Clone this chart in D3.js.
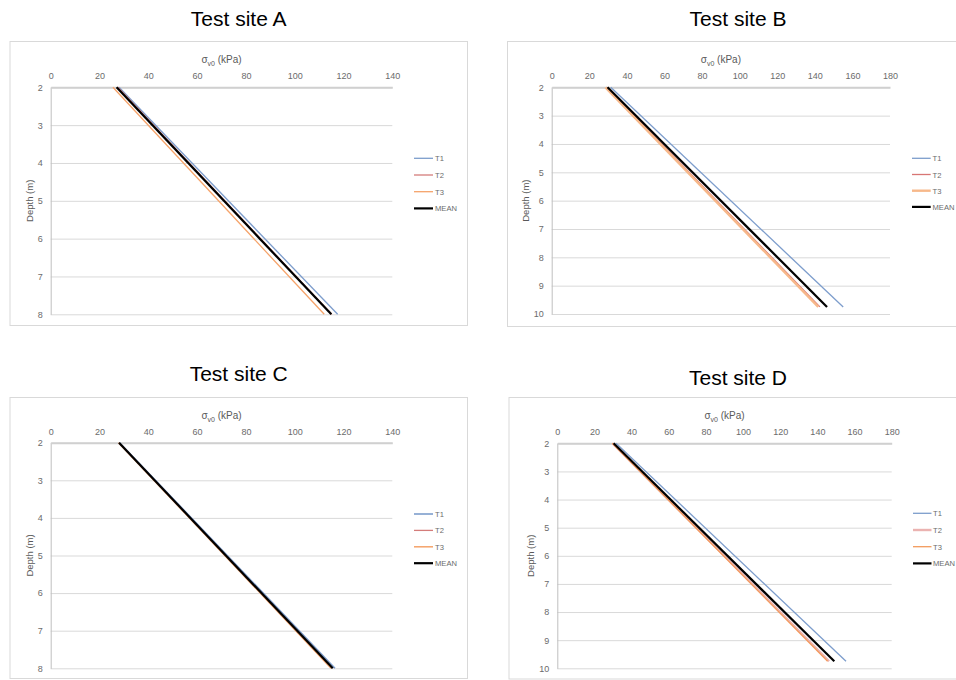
<!DOCTYPE html>
<html>
<head>
<meta charset="utf-8">
<script src="https://cdn.jsdelivr.net/npm/d3@7/dist/d3.min.js"></script>
<style>
  html, body { margin: 0; padding: 0; background: #ffffff; }
  svg { display: block; font-family: "Liberation Sans", Arial, sans-serif; }
</style>
</head>
<body>
<svg id="chart" width="956" height="680"></svg>
<script>
// Vertical effective stress profiles, four test sites
const siteNames = ["Test site A", "Test site B", "Test site C", "Test site D"];
const seriesNames = ["T1", "T2", "T3", "MEAN"];

// depth (m) of each profile end point
const depthA = [2, 8];
const depthB = [2, 9.75];
const depthC = [2, 8];
const depthD = [2, 9.75];

// sigma_v0 (kPa) at those depths
const siteA_T1 = [28.0, 117.6];
const siteA_T2 = [27.5, 115.2];
const siteA_T3 = [25.5, 112.1];
const siteA_MEAN = [27.0, 115.0];

const siteB_T1 = [31.4, 155.1];
const siteB_T2 = [29.2, 142.7];
const siteB_T3 = [28.6, 141.8];
const siteB_MEAN = [29.7, 146.5];

const siteC_T1 = [28.2, 116.5];
const siteC_T2 = [28.0, 115.4];
const siteC_T3 = [27.8, 114.9];
const siteC_MEAN = [28.0, 115.6];

const siteD_T1 = [31.6, 155.4];
const siteD_T2 = [29.8, 146.3];
const siteD_T3 = [29.6, 145.5];
const siteD_MEAN = [30.3, 149.1];

// axis ranges and tick values
const xTicksAC = [0, 20, 40, 60, 80, 100, 120, 140];
const xTicksBD = [0, 20, 40, 60, 80, 100, 120, 140, 160, 180];
const yTicksAC = [2, 3, 4, 5, 6, 7, 8];
const yTicksBD = [2, 3, 4, 5, 6, 7, 8, 9, 10];

const sites = [
  { name: siteNames[0], depth: depthA, series: [siteA_T1, siteA_T2, siteA_T3, siteA_MEAN], xTicks: xTicksAC, yTicks: yTicksAC },
  { name: siteNames[1], depth: depthB, series: [siteB_T1, siteB_T2, siteB_T3, siteB_MEAN], xTicks: xTicksBD, yTicks: yTicksBD },
  { name: siteNames[2], depth: depthC, series: [siteC_T1, siteC_T2, siteC_T3, siteC_MEAN], xTicks: xTicksAC, yTicks: yTicksAC },
  { name: siteNames[3], depth: depthD, series: [siteD_T1, siteD_T2, siteD_T3, siteD_MEAN], xTicks: xTicksBD, yTicks: yTicksBD }
];

// panel geometry
const layout = [
  { frame: [10, 41.5, 457.5, 284], plot: [50.7, 392.3, 87.3, 314.3], titleX: 238.7, titleY: 26,
    xTitleY: 63, yTitleX: 33, leg: [414, 433, 435, 158.3, 16.7] },
  { frame: [507.5, 41.5, 470, 285], plot: [551.7, 890, 87.3, 314], titleX: 738, titleY: 26,
    xTitleY: 63, yTitleX: 529, leg: [912, 930.7, 932.5, 158.3, 16.2] },
  { frame: [10, 397.5, 457.5, 281], plot: [50.7, 392.3, 442.7, 668.3], titleX: 238.7, titleY: 381,
    xTitleY: 419, yTitleX: 33, leg: [414, 433, 435, 514, 16.4] },
  { frame: [509, 397.5, 470, 281.5], plot: [557.3, 891.7, 443.3, 668.3], titleX: 738, titleY: 385,
    xTitleY: 419, yTitleX: 534, leg: [913, 931.5, 933, 513.3, 16.7] }
];

// line styles per site, in series order
const styles = [
  [{ c: "#7d9dcc", w: 1.3 }, { c: "#d47c7a", w: 1.3 }, { c: "#f5a36a", w: 1.3 }, { c: "#000000", w: 2.2 }],
  [{ c: "#7d9dcc", w: 1.3 }, { c: "#d87674", w: 1.3 }, { c: "#f7b88a", w: 2.4 }, { c: "#000000", w: 2.2 }],
  [{ c: "#7d9dcc", w: 1.6 }, { c: "#d47c7a", w: 1.3 }, { c: "#f5a36a", w: 1.5 }, { c: "#000000", w: 2.2 }],
  [{ c: "#7d9dcc", w: 1.3 }, { c: "#ebb3b1", w: 2.4 }, { c: "#f39a5c", w: 1.3 }, { c: "#000000", w: 2.2 }]
];

const svg = d3.select("#chart");

sites.forEach((site, i) => {
  const L = layout[i];
  const [pl, pr, pt, pb] = L.plot;
  const g = svg.append("g");

  // chart frame
  g.append("rect")
    .attr("x", L.frame[0]).attr("y", L.frame[1])
    .attr("width", L.frame[2]).attr("height", L.frame[3])
    .attr("fill", "#ffffff").attr("stroke", "#d9d9d9").attr("stroke-width", 1);

  // site title
  g.append("text")
    .attr("x", L.titleX).attr("y", L.titleY)
    .attr("text-anchor", "middle")
    .attr("font-size", 21).attr("fill", "#000000")
    .text(site.name);

  const xMax = site.xTicks[site.xTicks.length - 1];
  const yMax = site.yTicks[site.yTicks.length - 1];
  const x = d3.scaleLinear().domain([0, xMax]).range([pl, pr]);
  const y = d3.scaleLinear().domain([2, yMax]).range([pt, pb]);

  // horizontal gridlines
  const grid = g.append("g")
    .attr("transform", `translate(${pl},0)`)
    .call(d3.axisLeft(y).tickValues(site.yTicks).tickSize(-(pr - pl)).tickFormat(""));
  grid.select(".domain").remove();
  grid.selectAll(".tick line").attr("stroke", "#d9d9d9").attr("stroke-width", 1);

  // depth axis
  const yAxis = g.append("g")
    .attr("transform", `translate(${pl},0)`)
    .call(d3.axisLeft(y).tickValues(site.yTicks).tickSize(0).tickPadding(8).tickFormat(d3.format("d")));
  yAxis.select(".domain").attr("stroke", "#bfbfbf").attr("stroke-width", 1);
  yAxis.selectAll("text")
    .attr("font-family", "'Liberation Sans', Arial, sans-serif")
    .attr("font-size", 9).attr("fill", "#6b6b6b");

  // stress axis along the top
  const xAxis = g.append("g")
    .attr("transform", `translate(0,${pt})`)
    .call(d3.axisTop(x).tickValues(site.xTicks).tickSize(0).tickPadding(8).tickFormat(d3.format("d")));
  xAxis.select(".domain").attr("stroke", "#d0d0d0").attr("stroke-width", 2);
  xAxis.selectAll("text")
    .attr("font-family", "'Liberation Sans', Arial, sans-serif")
    .attr("font-size", 9).attr("fill", "#6b6b6b");

  // axis titles
  const xt = g.append("text")
    .attr("x", (pl + pr) / 2).attr("y", L.xTitleY)
    .attr("text-anchor", "middle")
    .attr("font-size", 10).attr("fill", "#595959");
  xt.append("tspan").text("σ");
  xt.append("tspan").attr("font-size", 7).attr("dy", 2.5).text("v0");
  xt.append("tspan").attr("dy", -2.5).text(" (kPa)");

  g.append("text")
    .attr("transform", `translate(${L.yTitleX},${(pt + pb) / 2}) rotate(-90)`)
    .attr("text-anchor", "middle")
    .attr("font-size", 9.5).attr("fill", "#595959")
    .text("Depth (m)");

  // profiles
  const line = d3.line()
    .x(d => x(d[0]))
    .y(d => y(d[1]));

  site.series.forEach((vals, k) => {
    const pts = vals.map((v, j) => [v, site.depth[j]]);
    g.append("path")
      .datum(pts)
      .attr("d", line)
      .attr("fill", "none")
      .attr("stroke", styles[i][k].c)
      .attr("stroke-width", styles[i][k].w);
  });

  // legend
  const [lx1, lx2, ltx, ly0, ldy] = L.leg;
  seriesNames.forEach((name, k) => {
    const ly = ly0 + k * ldy;
    g.append("line")
      .attr("x1", lx1).attr("x2", lx2).attr("y1", ly).attr("y2", ly)
      .attr("stroke", styles[i][k].c)
      .attr("stroke-width", styles[i][k].w);
    g.append("text")
      .attr("x", ltx).attr("y", ly + 3)
      .attr("font-size", 7.6).attr("fill", "#6b6b6b")
      .text(name);
  });
});
</script>
</body>
</html>
